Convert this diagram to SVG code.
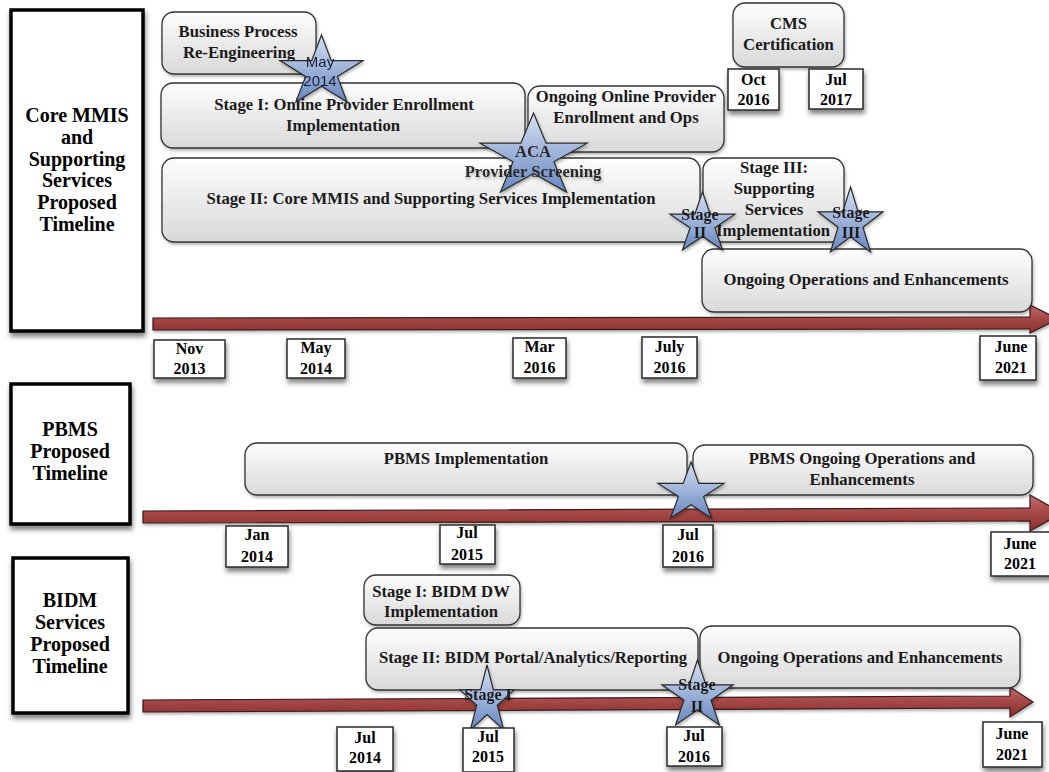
<svg xmlns="http://www.w3.org/2000/svg" xmlns:xlink="http://www.w3.org/1999/xlink" width="1049" height="772" viewBox="0 0 1049 772">
<defs>
<linearGradient id="boxg" x1="0" y1="0" x2="0" y2="1">
<stop offset="0" stop-color="#fdfdfd"/><stop offset="1" stop-color="#d9d9d9"/>
</linearGradient>
<linearGradient id="starg" x1="0" y1="0" x2="0" y2="1">
<stop offset="0" stop-color="#d6e0f2"/><stop offset="1" stop-color="#6787c0"/>
</linearGradient>
<linearGradient id="arrg" x1="0" y1="0" x2="0" y2="1">
<stop offset="0" stop-color="#c46c6c"/><stop offset="0.5" stop-color="#a44646"/><stop offset="1" stop-color="#8a3030"/>
</linearGradient>
<filter id="sh" x="-20%" y="-20%" width="140%" height="150%">
<feDropShadow dx="1" dy="4" stdDeviation="2.5" flood-color="#000" flood-opacity="0.5"/>
</filter>
<filter id="shs" x="-20%" y="-20%" width="140%" height="150%">
<feDropShadow dx="1" dy="2" stdDeviation="1.5" flood-color="#000" flood-opacity="0.3"/>
</filter>
<path id="star" d="M0,-1 L0.236,-0.236 L1,-0.236 L0.382,0.236 L0.618,1 L0,0.528 L-0.618,1 L-0.382,0.236 L-1,-0.236 L-0.236,-0.236 Z" fill="url(#starg)" stroke="#2a2a2a" stroke-width="1.2" vector-effect="non-scaling-stroke"/>
</defs>
<style>
text{font-family:"Liberation Serif","Times New Roman",serif;font-weight:bold;fill:#1a1a1a;text-anchor:middle}
.lbl{font-size:20px;fill:#000}
.bx{font-size:16.7px}
.dt{font-size:16px;fill:#000}
.st{font-size:16px;fill:#1a1a1a}
.sans{font-family:"Liberation Sans",Arial,sans-serif;font-weight:normal;font-size:15px;fill:#1a1f3a}
.lb{fill:#fff;stroke:#000;stroke-width:3.5;filter:url(#sh)}
.rb{fill:url(#boxg);stroke:#333;stroke-width:1.3;filter:url(#shs)}
.db{fill:#fff;stroke:#2a2a2a;stroke-width:1.5;filter:url(#sh)}
.ar{fill:url(#arrg);stroke:#3b1a1a;stroke-width:1.2;filter:url(#shs)}
.sg{filter:url(#shs)}
</style>

<g id="connectors">
<polygon class="ar" points="153,318 1030,317 1030,305 1058,319 1030,333 1030,329 153,330"/>
<polygon class="ar" points="143,511 1030,508 1030,495 1062,513 1030,531 1030,521 143,523"/>
<polygon class="ar" points="143,700 1010,696 1010,687 1033,702 1010,717 1010,708 143,712"/>
</g>

<g id="label-core">
<rect class="lb" x="11" y="10" width="132" height="321"/>
<text class="lbl" x="77" y="122">Core MMIS</text>
<text class="lbl" x="77" y="144">and</text>
<text class="lbl" x="77" y="165.5">Supporting</text>
<text class="lbl" x="77" y="187">Services</text>
<text class="lbl" x="77" y="209">Proposed</text>
<text class="lbl" x="77" y="230.5">Timeline</text>
</g>
<g id="label-pbms">
<rect class="lb" x="11" y="384" width="119" height="140"/>
<text class="lbl" x="70" y="436">PBMS</text>
<text class="lbl" x="70" y="458">Proposed</text>
<text class="lbl" x="70" y="480">Timeline</text>
</g>
<g id="label-bidm">
<rect class="lb" x="13" y="558" width="115" height="155"/>
<text class="lbl" x="70" y="607">BIDM</text>
<text class="lbl" x="70" y="629">Services</text>
<text class="lbl" x="70" y="651">Proposed</text>
<text class="lbl" x="70" y="673">Timeline</text>
</g>

<g id="bpr">
<rect class="rb" x="162" y="12" width="154" height="62" rx="12"/>
<text class="bx" x="238" y="37">Business Process</text>
<text class="bx" x="239" y="58">Re-Engineering</text>
</g>
<g id="stage1-online">
<rect class="rb" x="161" y="83" width="364" height="65" rx="12"/>
<text class="bx" x="344" y="110">Stage I: Online Provider Enrollment</text>
<text class="bx" x="343" y="131">Implementation</text>
</g>
<g id="ongoing-online">
<rect class="rb" x="528" y="86" width="196" height="66" rx="12"/>
<text class="bx" x="626" y="102">Ongoing Online Provider</text>
<text class="bx" x="626" y="123">Enrollment and Ops</text>
</g>
<g id="cms">
<rect class="rb" x="733" y="3" width="111" height="64" rx="12"/>
<text class="bx" x="788.5" y="29">CMS</text>
<text class="bx" x="788.5" y="50">Certification</text>
</g>
<g id="stage2-core">
<rect class="rb" x="162" y="158" width="538" height="84" rx="12"/>
<text class="bx" x="431" y="204">Stage II: Core MMIS and Supporting Services Implementation</text>
</g>
<g id="stage3-core">
<rect class="rb" x="703" y="158" width="141" height="84" rx="12"/>
<text class="bx" x="774" y="173">Stage III:</text>
<text class="bx" x="774" y="194">Supporting</text>
<text class="bx" x="774" y="215">Services</text>
<text class="bx" x="773" y="236">Implementation</text>
</g>
<g id="ongoing-core">
<rect class="rb" x="702" y="249" width="330" height="63" rx="12"/>
<text class="bx" x="866" y="285">Ongoing Operations and Enhancements</text>
</g>

<g id="pbms-impl">
<rect class="rb" x="245" y="443" width="442" height="52" rx="12"/>
<text class="bx" x="466" y="464">PBMS Implementation</text>
</g>
<g id="pbms-ongoing">
<rect class="rb" x="693" y="445" width="340" height="50" rx="12"/>
<text class="bx" x="862" y="464">PBMS Ongoing Operations and</text>
<text class="bx" x="862" y="485">Enhancements</text>
</g>

<g id="bidm-stage1">
<rect class="rb" x="364" y="575" width="156" height="50" rx="12"/>
<text class="bx" x="441" y="597">Stage I: BIDM DW</text>
<text class="bx" x="441" y="617">Implementation</text>
</g>
<g id="bidm-stage2">
<rect class="rb" x="366" y="628" width="332" height="62" rx="12"/>
<text class="bx" x="533" y="663">Stage II: BIDM Portal/Analytics/Reporting</text>
</g>
<g id="bidm-ongoing">
<rect class="rb" x="700" y="626" width="320" height="62" rx="12"/>
<text class="bx" x="860" y="663">Ongoing Operations and Enhancements</text>
</g>

<g id="star-may2014" class="sg">
<use xlink:href="#star" href="#star" transform="translate(321.5,68.5) scale(41.5,33.5)"/>
<text class="sans" x="320" y="67">May</text>
<text class="sans" x="320" y="86">2014</text>
</g>
<g id="star-aca" class="sg">
<use xlink:href="#star" href="#star" transform="translate(533.5,152.5) scale(53.5,39.5)"/>
<text class="bx" x="533" y="157" style="fill:#2a2a2a">ACA</text>
<text class="bx" x="533" y="177" style="fill:#2a2a2a">Provider Screening</text>
</g>
<g id="star-stage2-core" class="sg">
<use xlink:href="#star" href="#star" transform="translate(702.5,221) scale(32.5,29)"/>
<text class="st" x="700" y="220">Stage</text>
<text class="st" x="700" y="238">II</text>
</g>
<g id="star-stage3-core" class="sg">
<use xlink:href="#star" href="#star" transform="translate(850.5,219.5) scale(32.5,32.5)"/>
<text class="st" x="851" y="218">Stage</text>
<text class="st" x="851" y="238">III</text>
</g>
<g id="star-pbms" class="sg">
<use xlink:href="#star" href="#star" transform="translate(691,490) scale(33,28)"/>
</g>
<g id="star-bidm-stage1" class="sg">
<use xlink:href="#star" href="#star" transform="translate(487,697.5) scale(27,32.5)"/>
<text class="st" x="488" y="700">Stage I</text>
</g>
<g id="star-bidm-stage2" class="sg">
<use xlink:href="#star" href="#star" transform="translate(697.5,692.5) scale(35.5,32.5)"/>
<text class="st" x="697" y="690">Stage</text>
<text class="st" x="697" y="712">II</text>
</g>

<g id="d-nov2013"><rect class="db" x="154" y="340" width="71" height="38"/><text class="dt" x="189.5" y="354">Nov</text><text class="dt" x="189.5" y="374">2013</text></g>
<g id="d-may2014"><rect class="db" x="287" y="339" width="58" height="39"/><text class="dt" x="316" y="353">May</text><text class="dt" x="316" y="374">2014</text></g>
<g id="d-mar2016"><rect class="db" x="513" y="338" width="53" height="40"/><text class="dt" x="539.5" y="352">Mar</text><text class="dt" x="539.5" y="373">2016</text></g>
<g id="d-jul2016-core"><rect class="db" x="642" y="337" width="55" height="41"/><text class="dt" x="669.5" y="352">July</text><text class="dt" x="669.5" y="373">2016</text></g>
<g id="d-jun2021-core"><rect class="db" x="980" y="336" width="56" height="44"/><text class="dt" x="1011" y="352">June</text><text class="dt" x="1011" y="373">2021</text></g>
<g id="d-oct2016"><rect class="db" x="728" y="69" width="51" height="41"/><text class="dt" x="753.5" y="85">Oct</text><text class="dt" x="753.5" y="105">2016</text></g>
<g id="d-jul2017"><rect class="db" x="809" y="69" width="54" height="40"/><text class="dt" x="836" y="85">Jul</text><text class="dt" x="836" y="105">2017</text></g>

<g id="d-jan2014"><rect class="db" x="226" y="526" width="62" height="41"/><text class="dt" x="257" y="540">Jan</text><text class="dt" x="257" y="562">2014</text></g>
<g id="d-jul2015-pbms"><rect class="db" x="440" y="525" width="55" height="39"/><text class="dt" x="467" y="538">Jul</text><text class="dt" x="467" y="560">2015</text></g>
<g id="d-jul2016-pbms"><rect class="db" x="663" y="525" width="50" height="42"/><text class="dt" x="688" y="540">Jul</text><text class="dt" x="688" y="562">2016</text></g>
<g id="d-jun2021-pbms"><rect class="db" x="991" y="532" width="62" height="44"/><text class="dt" x="1020" y="549">June</text><text class="dt" x="1020" y="569">2021</text></g>

<g id="d-jul2014"><rect class="db" x="337" y="727" width="56" height="44"/><text class="dt" x="365" y="743">Jul</text><text class="dt" x="365" y="763">2014</text></g>
<g id="d-jul2015-bidm"><rect class="db" x="463" y="728" width="51" height="44"/><text class="dt" x="488" y="742">Jul</text><text class="dt" x="488" y="762">2015</text></g>
<g id="d-jul2016-bidm"><rect class="db" x="667" y="727" width="55" height="39"/><text class="dt" x="694" y="741">Jul</text><text class="dt" x="694" y="762">2016</text></g>
<g id="d-jun2021-bidm"><rect class="db" x="983" y="722" width="59" height="45"/><text class="dt" x="1012" y="739">June</text><text class="dt" x="1012" y="760">2021</text></g>
</svg>
